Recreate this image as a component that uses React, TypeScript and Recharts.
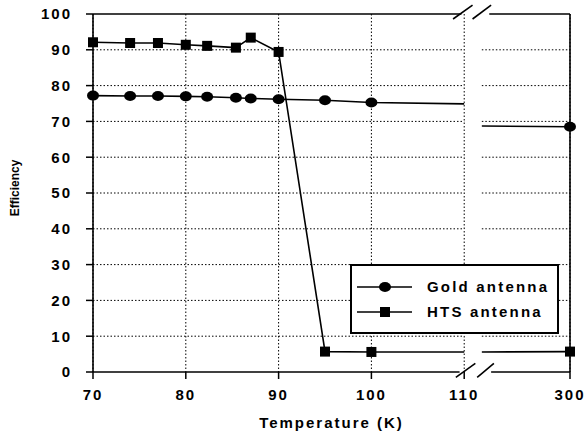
import React from 'react';
import { ComposedChart, Line, XAxis, YAxis, CartesianGrid, ReferenceLine } from 'recharts';

const temps = [70, 74, 77, 80, 82.3, 85.4, 87, 90, 95, 100, 300];
const goldEff = [77.2, 77.1, 77.1, 77.0, 76.9, 76.6, 76.4, 76.2, 75.9, 75.3, 68.5];
const htsEff = [92.1, 91.9, 91.9, 91.4, 91.1, 90.6, 93.4, 89.4, 5.7, 5.6, 5.7];

// broken x axis: 70..110 linear, then a gap, then 300 K at the right edge
const breakStart = 110;
const breakEnd = 111.9;
const axisEnd = 121.4;
// where the connecting lines stop / resume at the break
const goldAtBreak = [74.9, 68.7];
const htsAtBreak = [5.6, 5.6];

const xTicks = [70, 80, 90, 100, 110, axisEnd];
const xTickLabels = ['70', '80', '90', '100', '110', '300'];
const yTicks = [0, 10, 20, 30, 40, 50, 60, 70, 80, 90, 100];
const seriesNames = ['Gold antenna', 'HTS antenna'];

const toAxis = (t: number) => (t <= breakStart ? t : axisEnd);

const rows: any[] = [];
temps.forEach((t, i) => {
  if (t > breakStart) return;
  rows.push({ x: toAxis(t), gold: goldEff[i], hts: htsEff[i], marker: true });
});
rows.push({ x: breakStart, gold: goldAtBreak[0], hts: htsAtBreak[0], marker: false });
rows.push({ x: (breakStart + breakEnd) / 2, gold: null, hts: null, marker: false });
rows.push({ x: breakEnd, gold: goldAtBreak[1], hts: htsAtBreak[1], marker: false });
temps.forEach((t, i) => {
  if (t <= breakStart) return;
  rows.push({ x: toAxis(t), gold: goldEff[i], hts: htsEff[i], marker: true });
});

const FONT = '"Liberation Sans", Arial, sans-serif';

const CircleDot = (props: any) => {
  const { cx, cy, payload, index } = props;
  if (!payload.marker) return <g key={`g-${index}`} />;
  return <ellipse key={`g-${index}`} cx={cx} cy={cy} rx={6} ry={5} fill="#000" />;
};

const SquareDot = (props: any) => {
  const { cx, cy, payload, index } = props;
  if (!payload.marker) return <g key={`h-${index}`} />;
  return <rect key={`h-${index}`} x={cx - 5} y={cy - 5} width={10} height={10} fill="#000" />;
};

const LegendBox = () => (
  <div style={{ position: 'absolute', left: 350, top: 264, width: 205, height: 66, border: '2px solid #000', background: '#fff' }}>
    {seriesNames.map((name, i) => (
      <div key={name} style={{ display: 'flex', alignItems: 'center', height: 25, marginTop: i === 0 ? 8 : 0 }}>
        <svg width={75} height={20}>
          <line x1={5} y1={10} x2={60} y2={10} stroke="#000" strokeWidth={1.6} />
          {i === 0 ? (
            <ellipse cx={33} cy={10} rx={6} ry={5} fill="#000" />
          ) : (
            <rect x={28} y={5} width={10} height={10} fill="#000" />
          )}
        </svg>
        <span style={{ fontFamily: FONT, fontWeight: 'bold', fontSize: 15, letterSpacing: 2.2, color: '#000' }}>{name}</span>
      </div>
    ))}
  </div>
);

const YLabel = (props: any) => {
  const { viewBox } = props;
  const cx = 15;
  const cy = viewBox.y + viewBox.height / 2 - 5;
  return (
    <text x={cx} y={cy} transform={`rotate(-90 ${cx} ${cy})`} textAnchor="middle" dominantBaseline="central"
      style={{ fontFamily: FONT, fontWeight: 'bold', fontSize: 12, fill: '#000' }}>
      Efficiency
    </text>
  );
};

const tickStyle = { fontFamily: FONT, fontWeight: 'bold', fontSize: 15, letterSpacing: 2, fill: '#000' };
const gridProps = { stroke: '#000', strokeWidth: 1, strokeDasharray: '1.5 2' };
const frameProps = { stroke: '#000', strokeWidth: 1.6 };

export default function App() {
  return (
    <div style={{ position: 'absolute', left: 0, top: 0, width: 586, height: 432, background: '#fff' }}>
      <ComposedChart width={586} height={432} data={rows} margin={{ top: 14, right: 16, bottom: 30, left: 0 }}>
        <CartesianGrid horizontal={false} stroke="#000" strokeDasharray="1.5 2" />
        <XAxis
          dataKey="x"
          type="number"
          domain={[70, axisEnd]}
          ticks={xTicks}
          tickFormatter={(v: number) => xTickLabels[xTicks.indexOf(v)] ?? String(v)}
          axisLine={false}
          tickSize={7}
          tickMargin={10}
          tick={tickStyle}
          tickLine={{ stroke: '#000', strokeWidth: 1.5 }}
          height={30}
          label={{ value: 'Temperature (K)', position: 'bottom', offset: 15, style: tickStyle }}
        />
        <YAxis
          type="number"
          domain={[0, 100]}
          ticks={yTicks}
          axisLine={false}
          tickSize={7}
          tickMargin={14}
          tick={tickStyle}
          tickLine={{ stroke: '#000', strokeWidth: 1.5 }}
          width={93}
          label={<YLabel />}
        />
        {yTicks.slice(1, -1).map((y) => (
          <ReferenceLine key={`gl-${y}`} segment={[{ x: 70, y }, { x: breakStart, y }]} {...gridProps} />
        ))}
        {yTicks.slice(1, -1).map((y) => (
          <ReferenceLine key={`gr-${y}`} segment={[{ x: breakEnd, y }, { x: axisEnd, y }]} {...gridProps} />
        ))}
        {/* frame with axis break */}
        <ReferenceLine segment={[{ x: 70, y: 0 }, { x: 70, y: 100 }]} {...frameProps} ifOverflow="visible" />
        <ReferenceLine segment={[{ x: axisEnd, y: 0 }, { x: axisEnd, y: 100 }]} {...frameProps} ifOverflow="visible" />
        <ReferenceLine segment={[{ x: 70, y: 100 }, { x: 109.7, y: 100 }]} {...frameProps} ifOverflow="visible" />
        <ReferenceLine segment={[{ x: 112.7, y: 100 }, { x: axisEnd, y: 100 }]} {...frameProps} ifOverflow="visible" />
        <ReferenceLine segment={[{ x: 70, y: 0 }, { x: 109.5, y: 0 }]} {...frameProps} ifOverflow="visible" />
        <ReferenceLine segment={[{ x: 112.9, y: 0 }, { x: axisEnd, y: 0 }]} {...frameProps} ifOverflow="visible" />
        <ReferenceLine segment={[{ x: 108.8, y: 98.6 }, { x: 110.9, y: 102.5 }]} {...frameProps} ifOverflow="visible" />
        <ReferenceLine segment={[{ x: 110.9, y: 98.6 }, { x: 112.9, y: 102.5 }]} {...frameProps} ifOverflow="visible" />
        <ReferenceLine segment={[{ x: 109.1, y: -1.5 }, { x: 111.2, y: 2.4 }]} {...frameProps} ifOverflow="visible" />
        <ReferenceLine segment={[{ x: 111.4, y: -1.5 }, { x: 113.2, y: 2.4 }]} {...frameProps} ifOverflow="visible" />
        <Line dataKey="gold" name={seriesNames[0]} stroke="#000" strokeWidth={1.6} dot={CircleDot} activeDot={false}
          connectNulls={false} isAnimationActive={false} />
        <Line dataKey="hts" name={seriesNames[1]} stroke="#000" strokeWidth={1.6} dot={SquareDot} activeDot={false}
          connectNulls={false} isAnimationActive={false} />
      </ComposedChart>
      <LegendBox />
    </div>
  );
}
